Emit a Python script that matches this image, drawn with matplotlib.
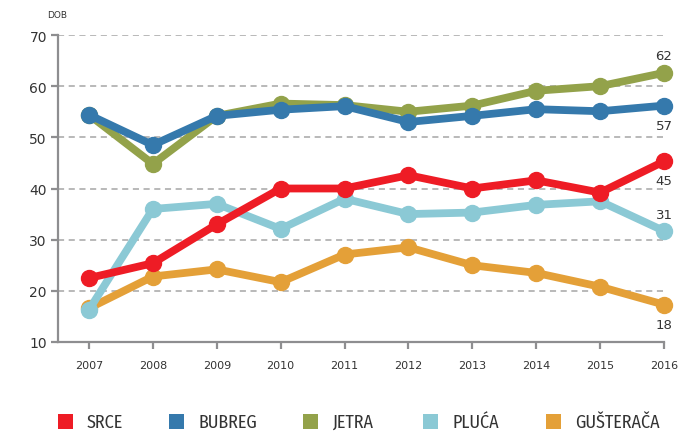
import matplotlib
matplotlib.use("Agg")
import matplotlib.pyplot as plt
from matplotlib.patches import Rectangle

years = [2007, 2008, 2009, 2010, 2011, 2012, 2013, 2014, 2015, 2016]
srce = [22.5, 25.4, 33.0, 40.0, 40.0, 42.6, 40.0, 41.6, 39.2, 45.3]
bubreg = [54.4, 48.5, 54.2, 55.4, 56.1, 53.0, 54.2, 55.5, 55.1, 56.2]
jetra = [54.4, 44.8, 54.2, 56.6, 56.3, 55.0, 56.2, 59.1, 60.0, 62.6]
pluca = [16.3, 36.0, 37.0, 32.1, 38.0, 35.0, 35.3, 36.8, 37.5, 31.7]
gusteraca = [16.6, 22.8, 24.2, 21.7, 27.1, 28.5, 25.0, 23.5, 20.8, 17.3]
end_labels = ["45", "57", "62", "31", "18"]

names = ["SRCE", "BUBREG", "JETRA", "PLUĆA", "GUŠTERAČA"]
colors = ["#EE1C25", "#3579AC", "#93A24A", "#8BC9D5", "#E4A038"]
series = [srce, bubreg, jetra, pluca, gusteraca]
zorders = [5, 7, 6, 4, 3]

W, H = 680, 435
fig = plt.figure(figsize=(6.8, 4.35), dpi=100)
ax = fig.add_axes([58/W, 92/H, (664-58)/W, (343-36)/H])

for vals, c, z in zip(series, colors, zorders):
    ax.plot(years, vals, color=c, lw=5.6, marker='o', ms=11.5, zorder=z,
            clip_on=False, solid_capstyle='round', solid_joinstyle='round')

ax.set_xlim(2006.515, 2016)
ax.set_ylim(10, 70)
ax.set_yticks(range(10, 71, 10))
ax.set_xticks(years)
ax.set_xticklabels([str(y) for y in years])

grey = "#8E8E90"
txt = "#333333"
for s in ["top", "right"]:
    ax.spines[s].set_visible(False)
for s in ["left", "bottom"]:
    ax.spines[s].set_color(grey)
    ax.spines[s].set_linewidth(1.6)
ax.tick_params(axis='both', colors=grey, width=1.6, length=5, labelcolor=txt)
ax.tick_params(axis='y', labelsize=10, pad=3)
ax.tick_params(axis='x', labelsize=8, pad=8)
for y in range(20, 71, 10):
    ax.axhline(y, color="#A5A5A5", lw=1.1, ls=(0, (4, 3)), zorder=1)

fig.text(47/W, 1 - 16/H, "DOB", fontsize=6.5, color=txt, va='center', ha='left')

# end labels (offsets in points)
offs = [-14, -14.4, 12.2, 12, -14]
for i, lab in enumerate(end_labels):
    ax.annotate(lab, (years[-1], series[i][-1]), xytext=(0, offs[i]), textcoords='offset points',
                ha='center', va='center', fontsize=9.5, color=txt, annotation_clip=False)

# legend
sq_x = [65, 176.5, 310.5, 430, 553.5]
yl = 1 - 422.5/H
sq = 15.0
for x, c, n in zip(sq_x, colors, names):
    p = Rectangle(((x - sq/2)/W, yl - (sq/2)/H), sq/W, sq/H, transform=fig.transFigure,
                  facecolor=c, edgecolor='none')
    fig.add_artist(p)
    fig.text((x + 22)/W, yl, n, fontsize=13, color=txt, va='center', ha='left',
             family=['Fira Sans Condensed', 'DejaVu Sans'])

fig.savefig("out.png", dpi=100)
